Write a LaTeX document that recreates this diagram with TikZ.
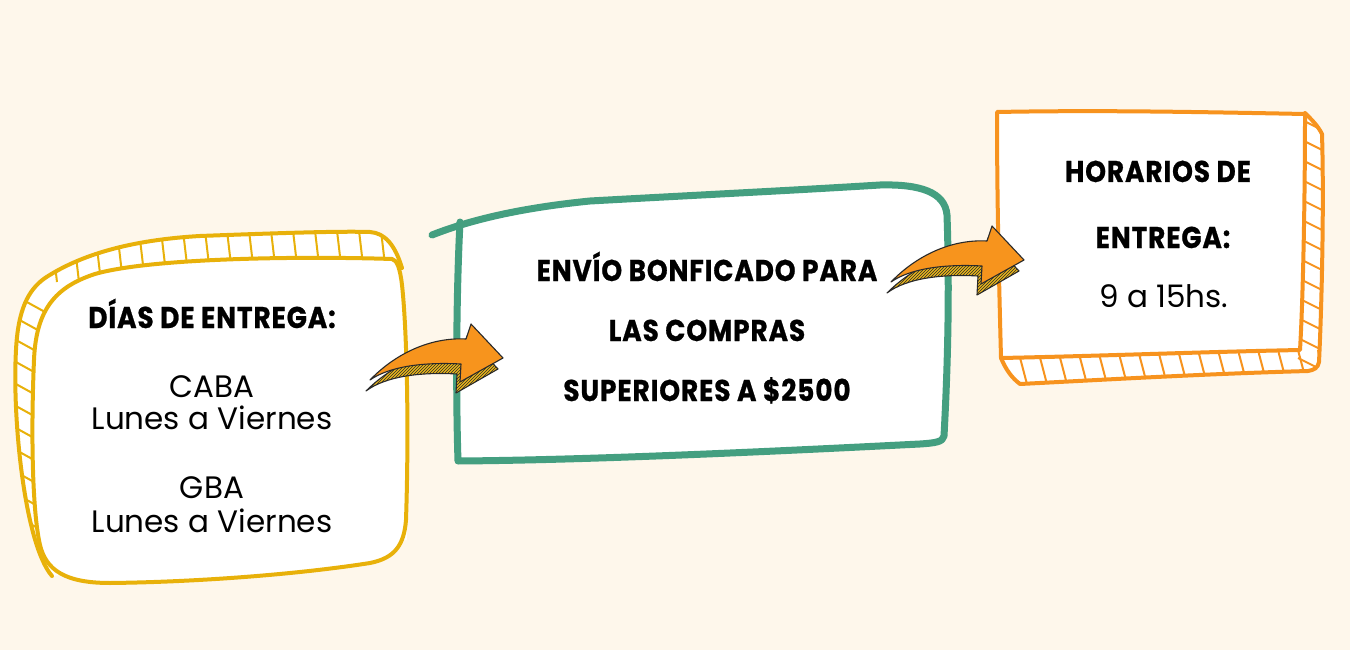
\documentclass[tikz,border=0pt]{standalone}
\usepackage{fontspec}
\setmainfont{Poppins}
\newfontfamily\headfont{Poppins}[FakeStretch=0.88, LetterSpace=3, FakeBold=0.8]
\usetikzlibrary{patterns}
\definecolor{bg}{HTML}{FEF7EB}
\definecolor{yel}{HTML}{E8B10A}
\definecolor{grn}{HTML}{449F80}
\definecolor{org}{HTML}{F7931E}
\definecolor{aor}{HTML}{F7941D}
\definecolor{ayel}{HTML}{E9B51A}
\definecolor{dark}{HTML}{2A2A2A}
\tikzset{
  head/.style={font=\headfont\bfseries\fontsize{30}{30}\selectfont, text=black, inner sep=0pt, anchor=base},
  body/.style={font=\fontsize{31}{31}\selectfont, text=black, inner sep=0pt, anchor=base},
  ybord/.style={draw=yel, line width=4pt, line join=round, line cap=round},
  yhatch/.style={draw=yel, line width=2pt},
  gbord/.style={draw=grn, line width=7pt, line join=round, line cap=round},
  obord/.style={draw=org, line width=4pt, line join=round, line cap=round},
  ohatch/.style={draw=org, line width=2pt},
  aline/.style={draw=dark, line width=1.1pt, line join=round},
  arrowshape/.pic={
    \path[fill=ayel] (-4,11) .. controls (21,-14) and (56,-31) .. (92,-29) -- (97,-44) -- (128,-11) -- (86,13) -- (87,-6) .. controls (51,-8) and (16,-4) .. (-4,11) -- cycle;
    \path[pattern=north east lines, pattern color=dark] (-4,11) .. controls (21,-14) and (56,-31) .. (92,-29) -- (97,-44) -- (128,-11) -- (86,13) -- (87,-6) .. controls (51,-8) and (16,-4) .. (-4,11) -- cycle;
    \draw[aline] (-4,11) .. controls (21,-14) and (56,-31) .. (92,-29) -- (97,-44) -- (128,-11) -- (86,13) -- (87,-6) .. controls (51,-8) and (16,-4) .. (-4,11) -- cycle;
    \draw[aline, fill=aor] (0,0) .. controls (25,-26) and (60,-43) .. (96,-41) -- (101,-56) -- (133,-22) -- (90,2) -- (91,-16) .. controls (55,-18) and (20,-14) .. (0,0) -- cycle;
  }
}
\begin{document}
\begin{tikzpicture}[x=1pt,y=-1pt]
\useasboundingbox[fill=bg] (0,0) rectangle (1350,650);

% ---------- yellow box ----------
\def\youter{(52,576) .. controls (25,545) and (12,420) .. (16,350) .. controls (18,310) and (28,290) .. (45,278) .. controls (80,255) and (130,240) .. (200,236) .. controls (280,233) and (340,231) .. (370,232) .. controls (385,233) and (395,245) .. (402,268) -- (407,540) -- cycle}
\path[fill=white] \youter;
\begin{scope}
  \clip \youter;
  \foreach \x in {50,72,...,392} \draw[yhatch] (\x,222) -- ++(7,60);
  \foreach \y in {290,312,...,570} \draw[yhatch] (5,\y) -- ++(40,22);
\end{scope}
\draw[ybord] (52,576) .. controls (25,545) and (12,420) .. (16,350) .. controls (18,310) and (28,290) .. (45,278) .. controls (80,255) and (130,240) .. (200,236) .. controls (280,233) and (340,231) .. (370,232) .. controls (385,233) and (395,245) .. (402,268);
\draw[ybord, fill=white] (392,259) .. controls (300,256) and (150,258) .. (95,274) .. controls (55,287) and (36,310) .. (34,360) .. controls (31,430) and (32,510) .. (40,545) .. controls (46,570) and (65,583) .. (110,583) .. controls (200,582) and (300,574) .. (370,563) .. controls (395,558) and (404,545) .. (406,520) .. controls (409,430) and (407,330) .. (402,285) .. controls (400,268) and (397,260) .. (392,259) -- cycle;
\node[head] (yh) at (212,328) {DÍAS DE ENTREGA:};
\node[body] (y1) at (212,397) {CABA};
\node[body] (y2) at (212,429) {Lunes a Viernes};
\node[body] (y3) at (212,498) {GBA};
\node[body] (y4) at (212,532) {Lunes a Viernes};

% ---------- green box ----------
\draw[gbord, fill=white] (432,235) .. controls (470,220) and (520,208) .. (590,201) .. controls (680,196) and (800,190) .. (880,185) .. controls (920,184) and (945,192) .. (947,215) .. controls (950,300) and (947,380) .. (944,436) .. controls (943,442) and (935,443) .. (920,444) .. controls (800,450) and (600,460) .. (458,461) .. controls (456,400) and (456,300) .. (460,222);
\node[head] (g1) at (707,281) {ENVÍO BONFICADO PARA};
\node[head] (g2) at (707,341) {LAS COMPRAS};
\node[head] (g3) at (707,401) {SUPERIORES A \$2500};

% ---------- orange box ----------
\def\oouter{(1305,113) .. controls (1312,120) and (1318,126) .. (1322,134) .. controls (1324,200) and (1322,300) .. (1319,362) .. controls (1318,368) and (1314,370) .. (1308,371) .. controls (1200,374) and (1100,380) .. (1020,384) .. controls (1012,378) and (1006,370) .. (1001,358) -- (997,112) -- cycle}
\path[fill=white] \oouter;
\begin{scope}
  \clip \oouter;
  \foreach \x in {1018,1038,...,1318} \draw[ohatch] (\x,350) -- ++(10,38);
  \foreach \y in {118,138,...,370} \draw[ohatch] (1298,\y) -- ++(28,14);
\end{scope}
\draw[obord] (1305,113) .. controls (1312,120) and (1318,126) .. (1322,134) .. controls (1324,200) and (1322,300) .. (1319,362) .. controls (1318,368) and (1314,370) .. (1308,371) .. controls (1200,374) and (1100,380) .. (1020,384) .. controls (1012,378) and (1006,370) .. (1001,358);
\draw[obord, fill=white] (997,112) .. controls (1100,110) and (1200,112) .. (1305,114) .. controls (1305,200) and (1303,300) .. (1300,350) .. controls (1200,352) and (1100,356) .. (1001,358) .. controls (999,280) and (997,200) .. (997,112) -- cycle;
\node[head] (o1) at (1158,182) {HORARIOS DE};
\node[head] (o2) at (1163,248) {ENTREGA:};
\node[body] (o3) at (1164,307) {9 a 15hs.};

% ---------- arrows ----------
\pic (a1) at (370,380) {arrowshape};
\pic (a2) at (891,282) {arrowshape};
\end{tikzpicture}
\end{document}
